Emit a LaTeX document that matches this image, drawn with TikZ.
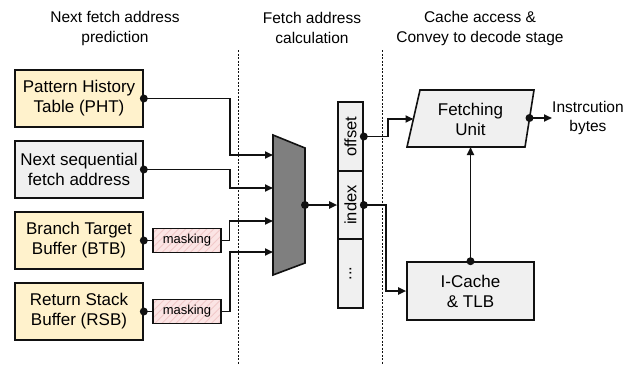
\documentclass[tikz,border=0pt]{standalone}
\usepackage{fontspec}
\setmainfont{Liberation Sans}
\usetikzlibrary{arrows.meta,patterns.meta}
\definecolor{boxyellow}{HTML}{FFF2CC}
\definecolor{boxgray}{HTML}{F0F0F0}
\definecolor{maskpink}{HTML}{FBE4E4}
\definecolor{stripe}{HTML}{F1C9C9}
\definecolor{muxgray}{HTML}{7F7F7F}
\definecolor{linec}{HTML}{111111}
\begin{document}
\begin{tikzpicture}[x=1pt,y=-1pt,
  box/.style={draw=linec, line width=1.6pt, minimum width=128pt, minimum height=57pt, align=center, inner sep=0pt, font=\fontsize{17}{20}\selectfont},
  ybox/.style={box, fill=boxyellow},
  gbox/.style={box, fill=boxgray},
  maskbox/.style={draw=linec, line width=1.6pt, minimum width=68pt, minimum height=24pt, inner sep=0pt,
    preaction={fill=maskpink}, pattern={Lines[angle=45,distance=5pt,line width=0.9pt]}, pattern color=stripe,
    font=\fontsize{13}{15}\selectfont},
  regbox/.style={draw=linec, line width=1.6pt, fill=boxgray, minimum width=25pt, inner sep=0pt, font=\fontsize{16.5}{18}\selectfont},
  header/.style={align=center, font=\fontsize{15.5}{20}\selectfont, inner sep=0pt},
  conn/.style={draw=linec, line width=1.8pt, -{Triangle[length=8pt,width=7pt]}},
  plain/.style={draw=linec, line width=1.8pt},
  dot/.style={fill=linec},
  sep/.style={draw=linec, line width=0.8pt, dash pattern=on 2pt off 1.5pt}
]
\useasboundingbox (0,0) rectangle (639,365);

% headers
\node[header] (h1) at (115,28) {Next fetch address\\prediction};
\node[header] (h2) at (312,28) {Fetch address\\calculation};
\node[header] (h3) at (480,28) {Cache access \&\\Convey to decode stage};

% separators
\coordinate (s1t) at (238,50); \coordinate (s1b) at (238,365);
\coordinate (s2t) at (382,50); \coordinate (s2b) at (382,365);
\draw[sep] (s1t) -- (s1b);
\draw[sep] (s2t) -- (s2b);

% left boxes
\node[ybox] (pht) at (79,98.5) {Pattern History\\Table (PHT)};
\node[gbox] (nsf) at (79,169.5) {Next sequential\\fetch address};
\node[ybox] (btb) at (79,240.5) {Branch Target\\Buffer (BTB)};
\node[ybox] (rsb) at (79,311.5) {Return Stack\\Buffer (RSB)};

\node[maskbox] (m1) at (187,240.5) {masking};
\node[maskbox] (m2) at (187,311.5) {masking};

% mux
\draw[draw=linec, line width=1.6pt, fill=muxgray] (273,135) -- (305,148) -- (305,263) -- (273,275) -- cycle;
\coordinate (mi1) at (273,155);
\coordinate (mi2) at (273,188);
\coordinate (mi3) at (273,221);
\coordinate (mi4) at (273,252);
\coordinate (mo) at (305,205);

\draw[conn] (pht.east) -- ++(86,0) |- (mi1);
\draw[conn] (nsf.east) -- ++(86,0) |- (mi2);
\draw[plain] (btb.east) -- (m1.west);
\draw[conn] (m1.east) -- ++(8,0) |- (mi3);
\draw[plain] (rsb.east) -- (m2.west);
\draw[conn] (m2.east) -- ++(8,0) |- (mi4);
\foreach \n in {pht,nsf,btb,rsb} \fill[dot] (\n.east) circle (4pt);

% register
\node[regbox, minimum height=69pt] (r1) at (350.5,136.5) {\rotatebox{90}{offset}};
\node[regbox, minimum height=68pt] (r2) at (350.5,205) {\rotatebox{90}{index}};
\node[regbox, minimum height=69pt] (r3) at (350.5,273.5) {\rotatebox{90}{...}};

\draw[conn] (mo) -- (r2.west);
\fill[dot] (mo) circle (4pt);

% fetching unit
\draw[draw=linec, line width=1.6pt, fill=boxgray] (420,90) -- (534,90) -- (525,147) -- (407,147) -- cycle;
\node[align=center, inner sep=0pt, font=\fontsize{17}{20}\selectfont] (fu) at (470.5,119) {Fetching\\Unit};
\coordinate (fuin) at (413.5,119);
\coordinate (fuout) at (529.5,118);
\coordinate (fubot) at (470.5,147);

% I-cache
\node[gbox, minimum width=127pt, minimum height=58pt] (ic) at (470.5,291) {I-Cache\\\& TLB};

\draw[conn] (r1.east) -- ++(24,0) |- (fuin);
\draw[conn] (r2.east) -- ++(22,0) |- (ic.west);
\fill[dot] (r1.east) circle (4pt);
\fill[dot] (r2.east) circle (4pt);

\draw[conn] (ic.north) -- (fubot);
\fill[dot] (ic.north) circle (4pt);

\node[align=center, anchor=west, inner sep=0pt, font=\fontsize{15.5}{19}\selectfont] (ib) at (552,118) {Instrcution\\bytes};
\draw[conn] (fuout) -- (ib.west);
\fill[dot] (fuout) circle (4pt);
\end{tikzpicture}
\end{document}
